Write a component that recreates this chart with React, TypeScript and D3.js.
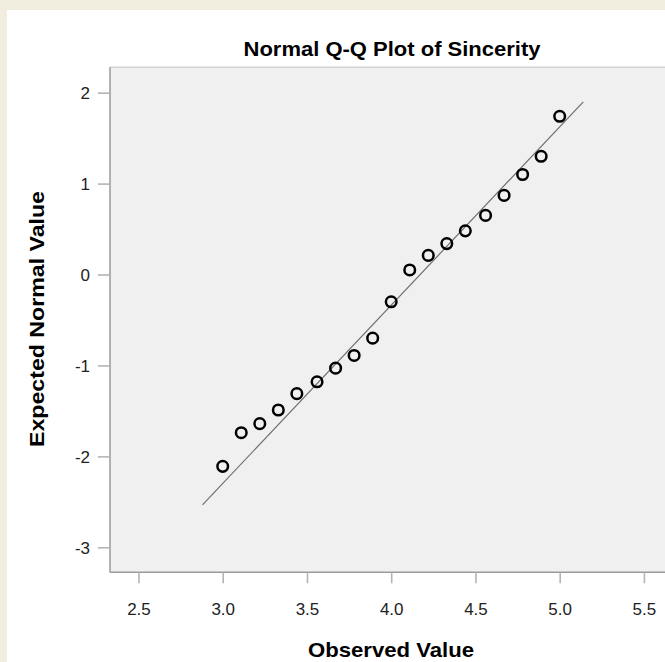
import * as d3 from 'd3';
import { useEffect, useRef } from 'react';

// observed scale scores (x) and their expected normal values (y)
const observed = [3.0, 3.11, 3.22, 3.33, 3.44, 3.56, 3.67, 3.78, 3.89, 4.0, 4.11, 4.22, 4.33, 4.44, 4.56, 4.67, 4.78, 4.89, 5.0];
const expected = [-2.11, -1.74, -1.64, -1.49, -1.31, -1.18, -1.03, -0.89, -0.7, -0.3, 0.05, 0.21, 0.34, 0.48, 0.65, 0.87, 1.1, 1.3, 1.74];

// reference line y = (x - mean) / sd, drawn between these x values
const lineEnds = [2.88, 5.14];
const fitMean = 4.172;
const fitSd = 0.51;

const xTicks = [2.5, 3.0, 3.5, 4.0, 4.5, 5.0, 5.5];
const yTicks = [2, 1, 0, -1, -2, -3];

const App = (): React.ReactElement => {
  const ref: any = useRef();
  const width = 665;
  const height = 662;
  const left = 110;
  const top = 67.3;
  const right = 672.4;
  const bottom = 572.3;
  const font = "'Liberation Sans', Arial, sans-serif";

  useEffect(() => {
    const svg = d3.select(ref.current).attr('width', width).attr('height', height);
    svg.selectAll('*').remove();

    const xScale = d3.scaleLinear().domain([2.331, 5.669]).range([left, right]);
    const yScale = d3.scaleLinear().domain([-3.275, 2.279]).range([bottom, top]);

    // page background with the white card
    svg.append('rect').attr('width', width).attr('height', height).attr('fill', '#f1eedf');
    svg.append('rect').attr('x', 7).attr('y', 10).attr('width', width - 7).attr('height', height - 10).attr('fill', '#ffffff');

    // plot area
    svg.append('rect')
      .attr('x', left)
      .attr('y', top)
      .attr('width', right - left)
      .attr('height', bottom - top)
      .attr('fill', '#f0f0f0');
    svg.append('line').attr('x1', left).attr('x2', right).attr('y1', top).attr('y2', top)
      .attr('stroke', '#d4d4d4').attr('stroke-width', 1.5);
    svg.append('line').attr('x1', left).attr('x2', left).attr('y1', top).attr('y2', bottom)
      .attr('stroke', '#9a9a9a').attr('stroke-width', 1.5);
    svg.append('line').attr('x1', left).attr('x2', right).attr('y1', bottom).attr('y2', bottom)
      .attr('stroke', '#9a9a9a').attr('stroke-width', 1.5);

    const xAxis = svg.append('g')
      .attr('transform', 'translate(0,' + bottom + ')')
      .call(d3.axisBottom(xScale).tickValues(xTicks).tickFormat(d3.format('.1f')).tickSize(11).tickSizeOuter(0).tickPadding(20));
    const yAxis = svg.append('g')
      .attr('transform', 'translate(' + left + ',0)')
      .call(d3.axisLeft(yScale).tickValues(yTicks).tickFormat((d: any) => String(d)).tickSize(12).tickSizeOuter(0).tickPadding(8));

    [xAxis, yAxis].forEach((g) => {
      g.select('.domain').remove();
      g.selectAll('.tick line').attr('stroke', '#b4b4b4').attr('stroke-width', 1.6);
      g.selectAll('.tick text')
        .attr('fill', '#222222')
        .style('font-family', font)
        .style('font-size', '17px');
    });
    yAxis.selectAll('.tick text').attr('dy', '0.36em');

    // reference line
    svg.append('line')
      .attr('x1', xScale(lineEnds[0]))
      .attr('y1', yScale((lineEnds[0] - fitMean) / fitSd))
      .attr('x2', xScale(lineEnds[1]))
      .attr('y2', yScale((lineEnds[1] - fitMean) / fitSd))
      .attr('stroke', '#6e6e6e')
      .attr('stroke-width', 1.2);

    // points
    svg.append('g')
      .selectAll('circle')
      .data(observed)
      .enter()
      .append('circle')
      .attr('cx', (d) => xScale(d))
      .attr('cy', (_d, i) => yScale(expected[i]))
      .attr('r', 5.3)
      .attr('fill', 'none')
      .attr('stroke', '#000000')
      .attr('stroke-width', 2.5);

    // titles
    svg.append('text')
      .attr('x', 392)
      .attr('y', 56)
      .attr('text-anchor', 'middle')
      .attr('textLength', 297)
      .attr('lengthAdjust', 'spacingAndGlyphs')
      .style('font-family', font)
      .style('font-weight', 'bold')
      .style('font-size', '21px')
      .text('Normal Q-Q Plot of Sincerity');
    svg.append('text')
      .attr('x', 391)
      .attr('y', 657)
      .attr('text-anchor', 'middle')
      .attr('textLength', 166)
      .attr('lengthAdjust', 'spacingAndGlyphs')
      .style('font-family', font)
      .style('font-weight', 'bold')
      .style('font-size', '21px')
      .text('Observed Value');
    svg.append('text')
      .attr('transform', 'translate(44,319) rotate(-90)')
      .attr('text-anchor', 'middle')
      .attr('textLength', 256)
      .attr('lengthAdjust', 'spacingAndGlyphs')
      .style('font-family', font)
      .style('font-weight', 'bold')
      .style('font-size', '21px')
      .text('Expected Normal Value');
  }, []);

  return <svg ref={ref} style={{ position: 'absolute', left: 0, top: 0, display: 'block' }} />;
};

export default App;
